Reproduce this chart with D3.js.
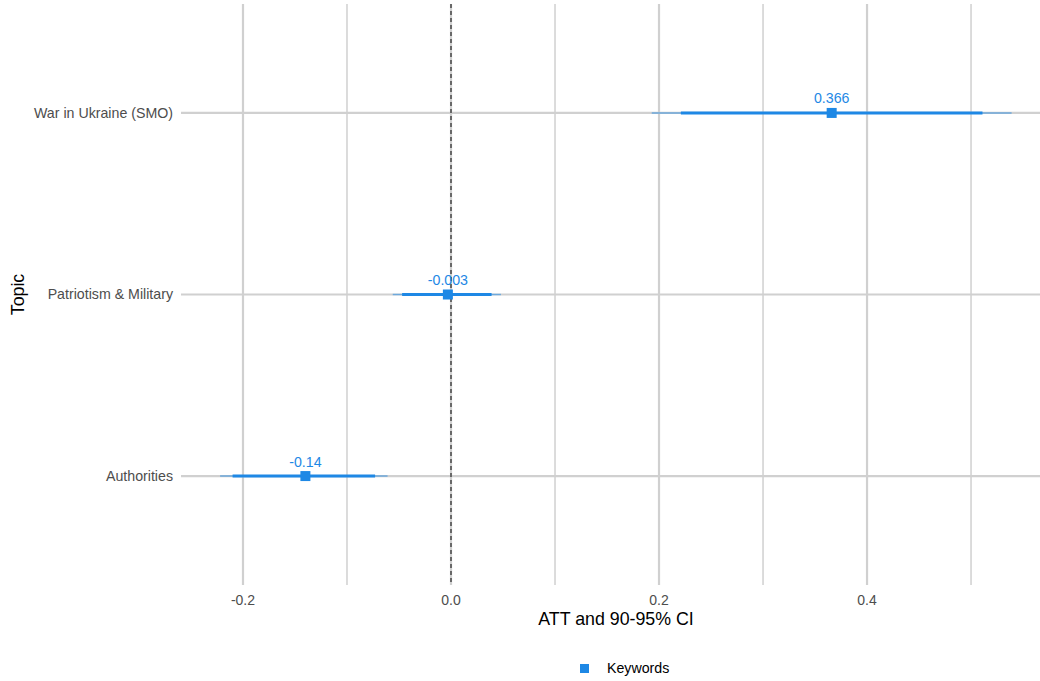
<!DOCTYPE html>
<html>
<head>
<meta charset="utf-8">
<script src="https://cdn.jsdelivr.net/npm/d3@7"></script>
<style>
  html, body { margin: 0; padding: 0; background: #ffffff; }
  svg { display: block; font-family: "Liberation Sans", Arial, Helvetica, sans-serif; }
</style>
</head>
<body>
<svg id="chart" width="1040" height="681"></svg>
<script>
// Topics, bottom to top
const topics = ["Authorities", "Patriotism & Military", "War in Ukraine (SMO)"];
// Point estimates (ATT)
const att = [-0.14, -0.003, 0.366];
// 90% confidence intervals
const ci90Low = [-0.210, -0.047, 0.221];
const ci90High = [-0.073, 0.039, 0.511];
// 95% confidence intervals
const ci95Low = [-0.222, -0.056, 0.193];
const ci95High = [-0.061, 0.048, 0.539];
// Value labels and axis ticks
const valueLabels = ["-0.14", "-0.003", "0.366"];
const majorTicks = [-0.2, 0.0, 0.2, 0.4];
const minorTicks = [-0.1, 0.1, 0.3, 0.5];
const seriesName = "Keywords";

const blue = "#1E88E5";
const svg = d3.select("#chart");

const panel = { left: 181, right: 1040, top: 4, bottom: 585 };

const x = d3.scaleLinear()
  .domain([-0.2596, 0.5663])
  .range([panel.left, panel.right]);

const y = d3.scalePoint()
  .domain(topics)
  .range([panel.bottom, panel.top])
  .padding(0.6);

// Grid
const grid = svg.append("g");
grid.selectAll("line.minor").data(minorTicks).join("line")
  .attr("x1", d => x(d)).attr("x2", d => x(d))
  .attr("y1", panel.top).attr("y2", panel.bottom)
  .attr("stroke", "#d8d8d8").attr("stroke-width", 1.8);
grid.selectAll("line.major").data(majorTicks).join("line")
  .attr("x1", d => x(d)).attr("x2", d => x(d))
  .attr("y1", panel.top).attr("y2", panel.bottom)
  .attr("stroke", "#d0d0d0").attr("stroke-width", 2.2);
grid.selectAll("line.hgrid").data(topics).join("line")
  .attr("x1", panel.left).attr("x2", panel.right)
  .attr("y1", d => y(d)).attr("y2", d => y(d))
  .attr("stroke", "#d0d0d0").attr("stroke-width", 2.2);

// Zero reference line
svg.append("line")
  .attr("x1", x(0)).attr("x2", x(0))
  .attr("y1", panel.top).attr("y2", panel.bottom)
  .attr("stroke", "#000").attr("stroke-width", 1)
  .attr("stroke-dasharray", "4,3");

// Estimates with intervals
const rows = topics.map((t, i) => ({
  topic: t, est: att[i], lo90: ci90Low[i], hi90: ci90High[i],
  lo95: ci95Low[i], hi95: ci95High[i], label: valueLabels[i]
}));

const marks = svg.append("g");
marks.selectAll("line.ci95").data(rows).join("line")
  .attr("x1", d => x(d.lo95)).attr("x2", d => x(d.hi95))
  .attr("y1", d => y(d.topic)).attr("y2", d => y(d.topic))
  .attr("stroke", blue).attr("stroke-opacity", 0.55).attr("stroke-width", 1.6);
marks.selectAll("line.ci90").data(rows).join("line")
  .attr("x1", d => x(d.lo90)).attr("x2", d => x(d.hi90))
  .attr("y1", d => y(d.topic)).attr("y2", d => y(d.topic))
  .attr("stroke", blue).attr("stroke-width", 3);
const sq = 10;
marks.selectAll("rect.pt").data(rows).join("rect")
  .attr("x", d => x(d.est) - sq / 2).attr("y", d => y(d.topic) - sq / 2)
  .attr("width", sq).attr("height", sq)
  .attr("fill", blue);
marks.selectAll("text.val").data(rows).join("text")
  .attr("x", d => x(d.est)).attr("y", d => y(d.topic) - 9.5)
  .attr("text-anchor", "middle")
  .attr("font-size", 14.2).attr("fill", blue)
  .text(d => d.label);

// X axis tick labels (plain hyphen-minus)
svg.append("g").selectAll("text").data(majorTicks).join("text")
  .attr("x", d => x(d)).attr("y", 605)
  .attr("text-anchor", "middle")
  .attr("font-size", 14).attr("fill", "#4d4d4d")
  .text(d => d3.format(".1f")(d).replace("\u2212", "-"));

// Y axis tick labels
svg.append("g").selectAll("text").data(topics).join("text")
  .attr("x", 173).attr("y", d => y(d))
  .attr("dy", "0.35em")
  .attr("text-anchor", "end")
  .attr("font-size", 14.2).attr("fill", "#4d4d4d")
  .text(d => d);

// Axis titles
svg.append("text")
  .attr("x", 616).attr("y", 625)
  .attr("text-anchor", "middle")
  .attr("font-size", 17.8).attr("fill", "#000")
  .text("ATT and 90-95% CI");
svg.append("text")
  .attr("transform", `translate(24,${(panel.top + panel.bottom) / 2}) rotate(-90)`)
  .attr("text-anchor", "middle")
  .attr("font-size", 17.8).attr("fill", "#000")
  .text("Topic");

// Legend
const legend = svg.append("g");
legend.append("rect")
  .attr("x", 580).attr("y", 664).attr("width", 9).attr("height", 9)
  .attr("fill", blue);
legend.append("text")
  .attr("x", 607).attr("y", 668.5).attr("dy", "0.35em")
  .attr("font-size", 14.2).attr("fill", "#000")
  .text(seriesName);
</script>
</body>
</html>
